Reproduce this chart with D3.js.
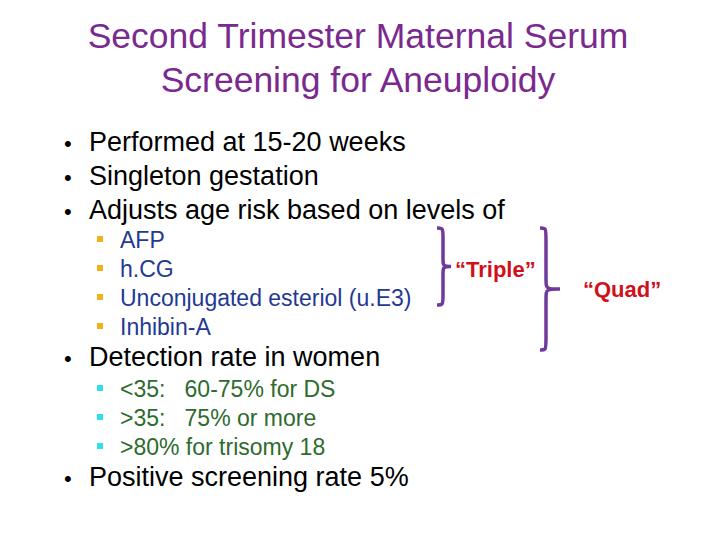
<!DOCTYPE html><html><head><meta charset="utf-8"><script src="https://cdn.jsdelivr.net/npm/d3@7"></script>
<style>body{margin:0;background:#fff}text{white-space:pre}</style></head><body><svg id="s" width="720" height="540"></svg>
<script>
const titleLines=["Second Trimester Maternal Serum","Screening for Aneuploidy"];
const mainBullets1=["Performed at 15-20 weeks","Singleton gestation","Adjusts age risk based on levels of"];
const markers=["AFP","h.CG","Unconjugated esteriol (u.E3)","Inhibin-A"];
const detection="Detection rate in women";
const detectItems=["<35:   60-75% for DS",">35:   75% or more",">80% for trisomy 18"];
const lastBullet="Positive screening rate 5%";
const braceLabels=["\u201cTriple\u201d","\u201cQuad\u201d"];

const svg=d3.select("#s");
const F="Liberation Sans, Arial, sans-serif";
svg.selectAll(".t").data(titleLines).join("text").attr("x",358).attr("y",(d,i)=>48+i*44)
 .attr("text-anchor","middle").attr("font-family",F).attr("font-size",35.5).attr("fill","#7a2a8e").text(d=>d);
function bullet(y,t){
 svg.append("text").attr("x",64).attr("y",y).attr("font-family",F).attr("font-size",22).text("\u2022");
 svg.append("text").attr("x",89).attr("y",y).attr("font-family",F).attr("font-size",27).attr("fill","#000").text(t);
}
mainBullets1.forEach((t,i)=>bullet(151+i*34,t));
function sub(items,y0,col,mcol){
 items.forEach((t,i)=>{const y=y0+i*29;
  svg.append("rect").attr("x",97).attr("y",y-12).attr("width",6).attr("height",6).attr("fill",mcol);
  svg.append("text").attr("x",120).attr("y",y).attr("font-family",F).attr("font-size",23).attr("fill",col).text(t);});
}
sub(markers,248,"#1f3a93","#f0b21c");
bullet(366,detection);
sub(detectItems,397,"#2e6b2e","#2ee0e8");
bullet(486,lastBullet);
const line=d3.line().curve(d3.curveBasis);
function brace(x,y0,y1,w){
 const m=(y0+y1)/2,c=6;
 svg.append("path").attr("d",line([[x,y0],[x+c,y0],[x+c,y0+c],[x+c,m-c],[x+c,m],[x+w,m]])+line([[x+w,m],[x+c,m],[x+c,m+c],[x+c,y1-c],[x+c,y1],[x,y1]]).replace("M","L"))
  .attr("fill","none").attr("stroke","#6f3a9c").attr("stroke-width",3.5);
}
brace(437,228,305,14);
brace(540,228,350,20);
svg.append("text").attr("x",455).attr("y",277).attr("font-family",F).attr("font-size",22).attr("font-weight","bold").attr("fill","#d0101a").text(braceLabels[0]);
svg.append("text").attr("x",583).attr("y",297).attr("font-family",F).attr("font-size",22).attr("font-weight","bold").attr("fill","#d0101a").text(braceLabels[1]);
</script></body></html>
